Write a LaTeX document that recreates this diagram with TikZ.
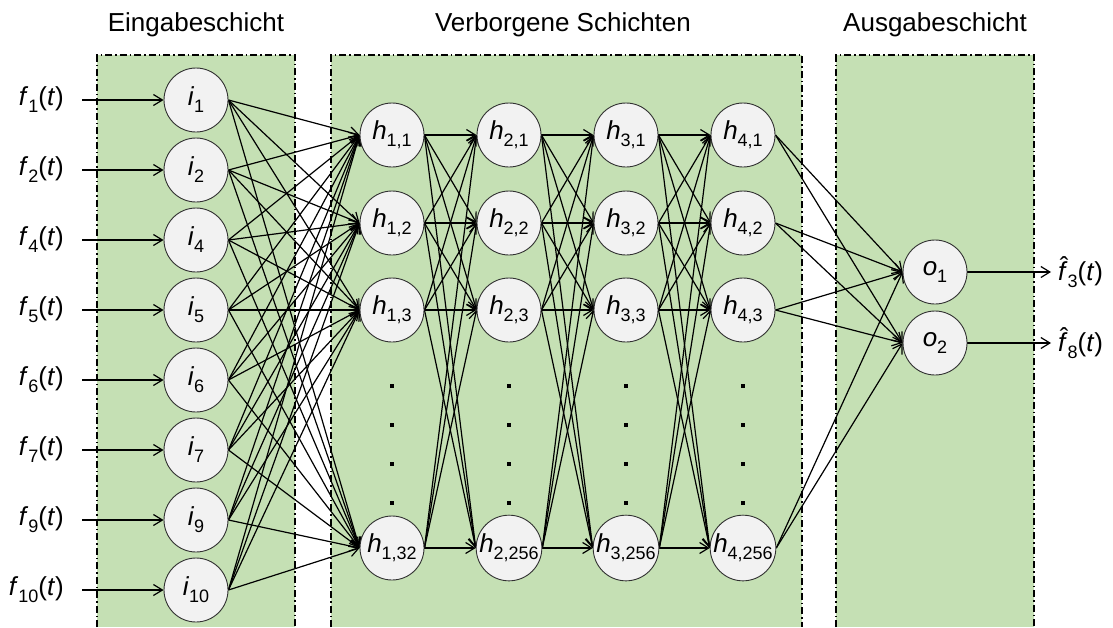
\documentclass[tikz,border=0pt]{standalone}
\usepackage{fontspec}
\setmainfont{Liberation Sans}
\usetikzlibrary{arrows.meta}
\pgfdeclarelayer{boxes}
\pgfdeclarelayer{edges}
\pgfsetlayers{boxes,edges,main}
\definecolor{boxgreen}{HTML}{C5E0B4}
\definecolor{nodegray}{HTML}{F2F2F2}
\definecolor{nodeline}{HTML}{303030}
\newcommand\nlab[2]{\textit{#1}\raisebox{-0.27em}{\fontsize{18}{18}\selectfont #2}}
\newcommand\flab[1]{\textit{f}\raisebox{-0.27em}{\fontsize{18}{18}\selectfont #1}(\textit{t})}
\newcommand\fhat[1]{\rlap{\hspace{0.06em}\raisebox{0.22em}{ˆ}}\textit{f}\raisebox{-0.27em}{\fontsize{18}{18}\selectfont #1}(\textit{t})}
\tikzset{
  neuron/.style={circle, draw=nodeline, line width=0.9pt, fill=nodegray, minimum size=64pt, inner sep=0pt, font=\fontsize{26}{26}\selectfont},
  layerbox/.style={fill=boxgreen},
  layerborder/.style={draw=black, line width=1.7pt, dash pattern=on 7pt off 3pt on 1.5pt off 3pt},
  conn/.style={line width=1.2pt, -{Straight Barb[length=9pt,width=11pt,line width=1.2pt]}},
  flabel/.style={font=\fontsize{26}{26}\selectfont, inner sep=0pt},
  title/.style={font=\fontsize{26}{26}\selectfont, inner sep=0pt}
}
\begin{document}
\begin{tikzpicture}[x=1pt, y=-1pt]
\useasboundingbox (0,0) rectangle (1113,627);
% titles
\node[title] (t1) at (196,25) {Eingabeschicht};
\node[title] (t2) at (563,25) {Verborgene Schichten};
\node[title] (t3) at (935,25) {Ausgabeschicht};
% boxes
\begin{pgfonlayer}{boxes}
\fill[layerbox] (97,55) rectangle (295,627);
\draw[layerborder] (97,627) -- (97,55) -- (295,55) -- (295,627);
\fill[layerbox] (331,55) rectangle (802,627);
\draw[layerborder] (331,627) -- (331,55) -- (802,55) -- (802,627);
\fill[layerbox] (836,55) rectangle (1034,627);
\draw[layerborder] (836,627) -- (836,55) -- (1034,55) -- (1034,627);
\end{pgfonlayer}
% input nodes
\foreach \n/\k in {1/0,2/1,4/2,5/3,6/4,7/5,9/6,10/7}{
  \node[neuron] (i\n) at (196,100+70*\k) {\nlab{i}{\n}};
  \node[flabel, anchor=east] (f\n) at (64,100+70*\k) {\flab{\n}};
  \coordinate (fs\n) at (82,100+70*\k);
}
% hidden nodes
\foreach \c/\x in {1/392,2/509,3/626,4/743}{
  \node[neuron] (h\c1) at (\x,135) {\nlab{h}{\c,1}};
  \node[neuron] (h\c2) at (\x,223) {\nlab{h}{\c,2}};
  \node[neuron] (h\c3) at (\x,310) {\nlab{h}{\c,3}};
  \foreach \yy in {386,425,464,503}{
    \fill[black] (\x-2,\yy-2) rectangle (\x+2,\yy+2);
  }
}
\node[neuron] (h14) at (392,548) {\nlab{h}{1,32}};
\node[neuron] (h24) at (509,548) {\nlab{h}{2,256}};
\node[neuron] (h34) at (626,548) {\nlab{h}{3,256}};
\node[neuron] (h44) at (743,548) {\nlab{h}{4,256}};
% output nodes
\node[neuron] (o1) at (935,272) {\nlab{o}{1}};
\node[neuron] (o2) at (935,343) {\nlab{o}{2}};
\coordinate (oe1) at (1051,272);
\coordinate (oe2) at (1051,343);
\node[flabel, anchor=west] (g1) at (1058,272) {\fhat{3}};
\node[flabel, anchor=west] (g2) at (1058,343) {\fhat{8}};
% connectors
\begin{pgfonlayer}{edges}
\foreach \n in {1,2,4,5,6,7,9,10}{
  \draw[conn] (fs\n) -- (i\n.west);
  \foreach \j in {1,2,3,4}{
    \draw[conn] (i\n.east) -- (h1\j.west);
  }
}
\foreach \c/\cn in {1/2,2/3,3/4}{
  \foreach \a in {1,2,3,4}{
    \foreach \b in {1,2,3,4}{
      \draw[conn] (h\c\a.east) -- (h\cn\b.west);
    }
  }
}
\foreach \a in {1,2,3,4}{
  \draw[conn] (h4\a.east) -- (o1.west);
  \draw[conn] (h4\a.east) -- (o2.west);
}
\draw[conn] (o1.east) -- (oe1);
\draw[conn] (o2.east) -- (oe2);
\end{pgfonlayer}
\end{tikzpicture}
\end{document}
